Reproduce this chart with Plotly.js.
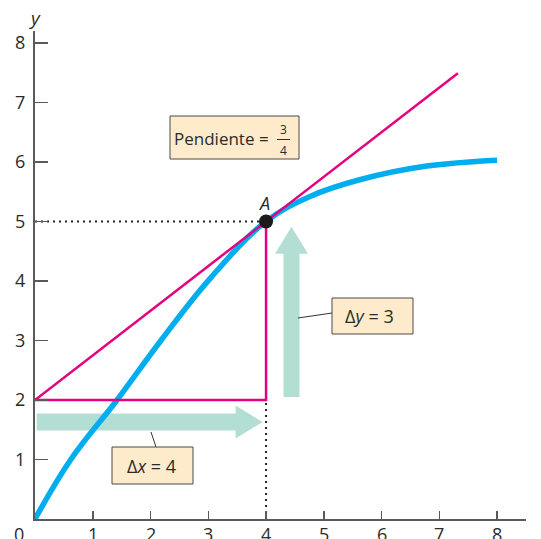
<!DOCTYPE html>
<html>
<head>
<meta charset="utf-8">
<script src="https://cdn.plot.ly/plotly-3.0.1.min.js"></script>
<style>
  html, body { margin: 0; padding: 0; background: #ffffff; }
  #chart { width: 541px; height: 539px; }
</style>
</head>
<body>
<div id="chart"></div>
<script>
// Curve y = f(x) with its tangent at point A
const curveX = [0, 0.62, 1.42, 2.18, 3.03, 4.0, 4.76, 5.62, 6.78, 8.0];
const curveY = [0, 1.00, 2.00, 3.00, 4.04, 5.0, 5.42, 5.70, 5.93, 6.03];

// Point A and the run / rise of the slope triangle
const pointA = [4, 5];
const run = 4;
const rise = 3;
const tangentEndX = 7.32;

// Wide arrows illustrating Δx and Δy
const dxArrowX = [0.03, 3.94];
const dxArrowLevel = 1.63;
const dyArrowY = [2.05, 4.91];
const dyArrowPos = 4.44;

// Axis ticks
const xTicks = [1, 2, 3, 4, 5, 6, 7, 8];
const yTicks = [1, 2, 3, 4, 5, 6, 7, 8];
const originLabel = '0';

// ---- geometry helpers ----
const W = 541, H = 539;
const M = { l: 35, r: 15, t: 31, b: 20 };
const xRange = [0, 8.5], yRange = [0, 8.2];
const plotW = W - M.l - M.r, plotH = H - M.t - M.b;
const pxPerX = plotW / (xRange[1] - xRange[0]);
const pxPerY = plotH / (yRange[1] - yRange[0]);
const px2x = px => xRange[0] + (px - M.l) / pxPerX;
const px2y = py => yRange[0] + (H - M.b - py) / pxPerY;
// paper fractions, for text placed outside the axis ranges
const px2px = px => (px - M.l) / plotW;
const px2py = py => (H - M.b - py) / plotH;

const FONT = '"Open Sans", "Noto Sans", sans-serif';
const TXT = '#2b2b2b';
const BLUE = '#00aeef';
const PINK = '#e5007d';
const MINT = '#b3ded4';
const PEACH = '#fdebcb';

// Horizontal arrow polygon
function hArrow(x0, x1, yc) {
  const sh = 8.5 / pxPerY, hh = 16.5 / pxPerY, hl = 27 / pxPerX;
  return {
    x: [x0, x1 - hl, x1 - hl, x1, x1 - hl, x1 - hl, x0, x0],
    y: [yc - sh, yc - sh, yc - hh, yc, yc + hh, yc + sh, yc + sh, yc - sh]
  };
}
// Vertical arrow polygon
function vArrow(y0, y1, xc) {
  const sw = 8 / pxPerX, hw = 16.5 / pxPerX, hl = 27 / pxPerY;
  return {
    x: [xc - sw, xc - sw, xc - hw, xc, xc + hw, xc + sw, xc + sw, xc - sw],
    y: [y0, y1 - hl, y1 - hl, y1, y1 - hl, y1 - hl, y0, y0]
  };
}

const ha = hArrow(dxArrowX[0], dxArrowX[1], dxArrowLevel);
const va = vArrow(dyArrowY[0], dyArrowY[1], dyArrowPos);

const base = [pointA[0] - run, pointA[1] - rise];
const slope = rise / run;

const traces = [
  { x: ha.x, y: ha.y, mode: 'lines', fill: 'toself', fillcolor: MINT,
    line: { width: 0, color: MINT }, hoverinfo: 'skip' },
  { x: va.x, y: va.y, mode: 'lines', fill: 'toself', fillcolor: MINT,
    line: { width: 0, color: MINT }, hoverinfo: 'skip' },
  // dotted guides to A
  { x: [0, pointA[0]], y: [pointA[1], pointA[1]], mode: 'lines',
    line: { color: '#222', width: 2, dash: '2px,4px' }, hoverinfo: 'skip' },
  { x: [pointA[0], pointA[0]], y: [0, base[1]], mode: 'lines',
    line: { color: '#222', width: 2, dash: '2px,4px' }, hoverinfo: 'skip' },
  // curve
  { x: curveX, y: curveY, mode: 'lines',
    line: { color: BLUE, width: 5.5, shape: 'spline', smoothing: 1.1 }, hoverinfo: 'skip' },
  // tangent line and slope triangle
  { x: [base[0], tangentEndX], y: [base[1], base[1] + slope * (tangentEndX - base[0])],
    mode: 'lines', line: { color: PINK, width: 2.5 }, hoverinfo: 'skip' },
  { x: [base[0], pointA[0], pointA[0]], y: [base[1], base[1], pointA[1]],
    mode: 'lines', line: { color: PINK, width: 2.5 }, hoverinfo: 'skip' },
  // point A
  { x: [pointA[0]], y: [pointA[1]], mode: 'markers',
    marker: { color: '#1a1a1a', size: 14 }, hoverinfo: 'skip' }
];

function box(x0, y0, x1, y1) {
  return { type: 'rect', xref: 'x', yref: 'y', layer: 'above',
    x0: px2x(x0), x1: px2x(x1), y0: px2y(y0), y1: px2y(y1),
    fillcolor: PEACH, line: { color: '#4a4a4a', width: 1 } };
}
function seg(x0, y0, x1, y1, color, width) {
  return { type: 'line', xref: 'x', yref: 'y', layer: 'above',
    x0: px2x(x0), x1: px2x(x1), y0: px2y(y0), y1: px2y(y1),
    line: { color: color, width: width } };
}

const shapes = [
  seg(298, 318, 332, 313, '#333', 1),
  seg(151, 432, 156, 447, '#333', 1),
  box(170, 116, 299, 159),
  box(332, 298, 413, 334),
  box(112, 447, 193, 484),
  seg(277, 139.5, 290, 139.5, TXT, 1)
];

function label(text, px, py, size, extra) {
  return Object.assign({ text: text, x: px2x(px), y: px2y(py), xref: 'x', yref: 'y',
    showarrow: false, xanchor: 'center', yanchor: 'middle',
    font: { family: FONT, size: size, color: TXT } }, extra || {});
}
function paperLabel(text, px, py, size) {
  return { text: text, x: px2px(px), y: px2py(py), xref: 'paper', yref: 'paper',
    showarrow: false, xanchor: 'center', yanchor: 'middle',
    font: { family: FONT, size: size, color: TXT } };
}

const annotations = [
  paperLabel('<i>y</i>', 35, 18, 19),
  label('<i>A</i>', 264, 203, 18),
  label('Pendiente =', 172, 138, 17, { xanchor: 'left' }),
  label('3', 283.5, 129, 12),
  label('4', 283.5, 150, 12),
  label('\u0394<i>y</i> = 3', 369, 316, 18),
  label('\u0394<i>x</i> = 4', 151, 466, 18),
  paperLabel(originLabel, 19, 534, 18)
];

// x tick labels sit just under the axis line
xTicks.forEach(v => annotations.push({
  text: String(v), x: v, y: px2py(534), xref: 'x', yref: 'paper', showarrow: false,
  xanchor: 'center', yanchor: 'middle', font: { family: FONT, size: 18, color: TXT }
}));

const axisCommon = {
  showgrid: false, zeroline: false, showline: true,
  linecolor: '#5a5a5a', linewidth: 2, ticks: 'inside',
  tickcolor: '#5a5a5a', tickwidth: 1.5,
  tickfont: { family: FONT, size: 18, color: TXT },
  fixedrange: true
};

const layout = {
  width: W, height: H,
  margin: { l: M.l, r: M.r, t: M.t, b: M.b, pad: 0 },
  paper_bgcolor: '#ffffff', plot_bgcolor: '#ffffff',
  showlegend: false,
  xaxis: Object.assign({}, axisCommon, { range: xRange, tickmode: 'array',
    tickvals: xTicks, showticklabels: false, ticklen: 8 }),
  yaxis: Object.assign({}, axisCommon, { range: yRange, tickmode: 'array',
    tickvals: yTicks, ticktext: yTicks.map(String), ticklen: 13,
    ticklabelstandoff: 4 }),
  shapes: shapes,
  annotations: annotations
};

Plotly.newPlot('chart', traces, layout, { staticPlot: true, displayModeBar: false });
</script>
</body>
</html>
